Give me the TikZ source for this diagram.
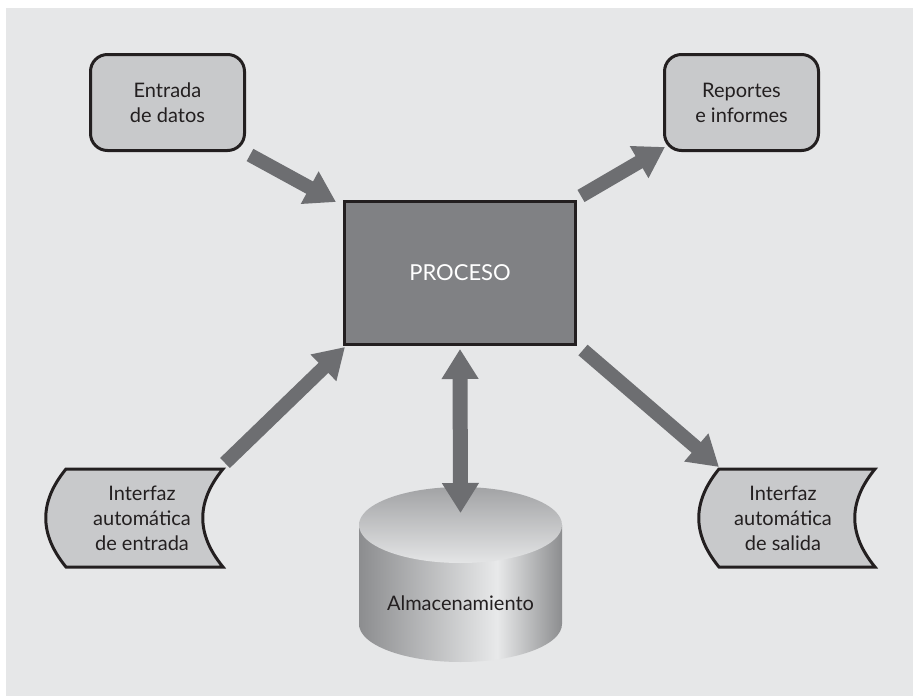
\documentclass[tikz,border=0pt]{standalone}
\usepackage{fontspec}
\setmainfont{Lato}
\usepackage{tikz}
\usetikzlibrary{arrows.meta,calc}
\definecolor{fondo}{HTML}{E6E7E8}
\definecolor{cajaclara}{HTML}{C8C9CB}
\definecolor{cajaoscura}{HTML}{808184}
\definecolor{flecha}{HTML}{6D6E71}
\definecolor{borde}{HTML}{231F20}
\definecolor{cilborde}{HTML}{8C8D8F}
\definecolor{cilluz}{HTML}{E8E9EA}
\definecolor{tapaarriba}{HTML}{A2A3A5}
\definecolor{tapaabajo}{HTML}{E4E5E6}
\pgfdeclarehorizontalshading{cilindro}{100bp}{color(0bp)=(cilborde); color(25bp)=(cilborde); color(59bp)=(cilluz); color(75bp)=(cilborde); color(100bp)=(cilborde)}

\begin{document}
\begin{tikzpicture}[x=1pt,y=-1pt,
  every node/.style={font=\fontsize{20}{25}\selectfont,text=borde,align=center},
  caja/.style={draw=borde,line width=3pt,fill=cajaclara,rounded corners=17pt,minimum width=154pt,minimum height=96pt},
  proc/.style={draw=borde,line width=3pt,fill=cajaoscura,text=white,font=\fontsize{22}{26}\selectfont,minimum width=231pt,minimum height=143pt},
  interfaz/.style={draw=borde,line width=3pt,fill=cajaclara,line join=miter},
  flechagruesa/.style={draw=flecha,line width=14pt,-{Triangle[width=35pt,length=30pt]}},
  flechadoble/.style={draw=flecha,line width=15pt,{Triangle[width=35pt,length=30pt]}-{Triangle[width=35pt,length=30pt]}}]
\useasboundingbox (0,0) rectangle (913,696);
\fill[fondo] (6,8) rectangle (913,696);

\node[caja] (entrada) at (167.5,102.5) {Entrada\\de datos};
\node[caja] (reportes) at (741.5,102.5) {Reportes\\e informes};
\node[proc] (proceso) at (460,273) {PROCESO};

\draw[interfaz] (66,469) coordinate (intin-tl) -- (223,469) coordinate (intin-tr)
  .. controls +(-27,33) and +(-27,-33) .. (223,567) -- (66,567)
  .. controls +(-27,-33) and +(-27,33) .. (66,469) -- cycle;
\node (intin) at (142,518) {Interfaz\\automática\\de entrada};

\draw[interfaz] (719,469) coordinate (intout-tl) -- (875,469) coordinate (intout-tr)
  .. controls +(-27,33) and +(-27,-33) .. (875,567) -- (719,567)
  .. controls +(-27,-33) and +(-27,33) .. (719,469) -- cycle;
\node (intout) at (783,518) {Interfaz\\automática\\de salida};

\shade[shading=cilindro] (359,525) -- (359,624) arc[start angle=180,end angle=0,x radius=101.5,y radius=38] -- (562,525) -- cycle;
\shade[top color=tapaarriba,bottom color=tapaabajo] (460.5,525) coordinate (almtop) ellipse [x radius=101.5,y radius=38];
\node (almacen) at (460.5,603) {Almacenamiento};

\draw[flechagruesa] ([shift={(4,3)}]entrada.south east) -- ([shift={(-7,2)}]proceso.north west);
\draw[flechagruesa] ([shift={(4,-4)}]proceso.north east) -- ([shift={(2,-5)}]reportes.south west);
\draw[flechagruesa] ([shift={(2,-6)}]intin-tr) -- ([shift={(2,1)}]proceso.south west);
\draw[flechagruesa] ([shift={(6,4)}]proceso.south east) -- ([shift={(0,-2)}]intout-tl);
\draw[flechadoble] ([yshift=12]almtop) -- ([yshift=-3]proceso.south);
\end{tikzpicture}
\end{document}
